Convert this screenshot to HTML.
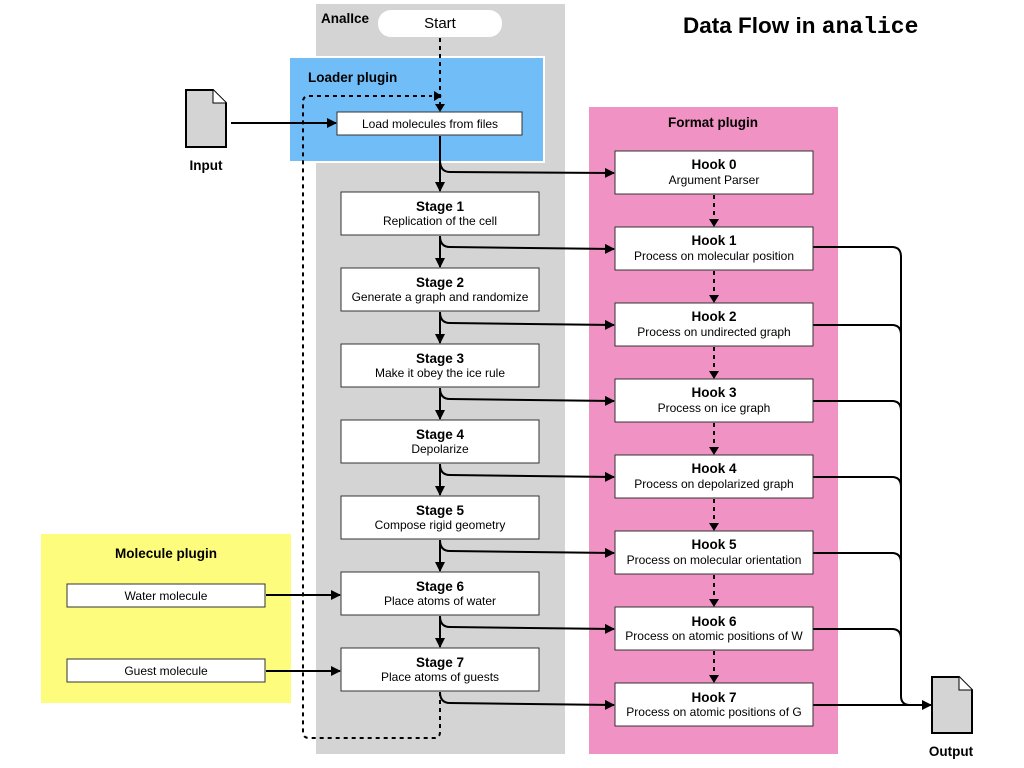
<!DOCTYPE html>
<html><head><meta charset="utf-8"><style>
html,body{margin:0;padding:0;background:#fff;}
svg{display:block;font-family:"Liberation Sans",sans-serif;}
.b{font-weight:bold;font-size:13.5px;}
.s{font-size:12px;}
</style></head><body>
<svg width="1024" height="768" viewBox="0 0 1024 768" xmlns="http://www.w3.org/2000/svg">
<defs>
<marker id="a" markerWidth="10" markerHeight="10" refX="9" refY="5" orient="auto" markerUnits="userSpaceOnUse"><path d="M0,0 L10,5 L0,10 z" fill="#000"/></marker>
</defs>
<rect x="316" y="4" width="249" height="750" fill="#d4d4d4"/>
<rect x="589" y="107" width="249" height="647" fill="#f092c4"/>
<rect x="41" y="534" width="250" height="169" fill="#fefc7d"/>
<rect x="289" y="57" width="255" height="105" fill="#71bdf7" stroke="#fff" stroke-width="2"/>
<text x="321" y="23" class="b" font-size="13">AnalIce</text>
<text x="308" y="82" class="b">Loader plugin</text>
<text x="713" y="127" class="b" text-anchor="middle">Format plugin</text>
<text x="166" y="558" class="b" text-anchor="middle">Molecule plugin</text>
<text x="683" y="33" font-weight="bold" font-size="22.5">Data Flow in <tspan font-family="Liberation Mono,monospace" font-size="23">analice</tspan></text>
<rect x="378" y="10" width="124" height="27" rx="13" fill="#fff"/>
<text x="440" y="28" font-size="15" text-anchor="middle">Start</text>
<path d="M186,90 L213,90 L226,103 L226,147 L186,147 Z" fill="#d4d4d4" stroke="#000" stroke-width="2"/>
<path d="M213,90 L213,103 L226,103" fill="#fff" stroke="#000" stroke-width="1"/>
<text x="206" y="170" class="b" text-anchor="middle">Input</text>
<path d="M932,677 L959,677 L972,690 L972,733 L932,733 Z" fill="#d4d4d4" stroke="#000" stroke-width="2"/>
<path d="M959,677 L959,690 L972,690" fill="#fff" stroke="#000" stroke-width="1"/>
<text x="951" y="756" class="b" text-anchor="middle">Output</text>
<g fill="none" stroke="#000" stroke-width="2" stroke-dasharray="4,4">
<path d="M440,38 L440,104"/>
<path d="M440,692 L440,732 Q440,738 434,738 L309,738 Q303,738 303,732 L303,102 Q303,96 309,96 L432,96"/>
<path d="M714,195 L714,220"/><path d="M714,271 L714,296"/><path d="M714,347 L714,372"/><path d="M714,423 L714,448"/><path d="M714,499 L714,524"/><path d="M714,575 L714,600"/><path d="M714,651 L714,676"/>
</g>
<g fill="#000">
<path d="M434,91 L442,96 L434,101 z"/><path d="M435,104 L440,112 L445,104 z"/>
<path d="M709,219 L714,227 L719,219 z"/><path d="M709,295 L714,303 L719,295 z"/><path d="M709,371 L714,379 L719,371 z"/><path d="M709,447 L714,455 L719,447 z"/><path d="M709,523 L714,531 L719,523 z"/><path d="M709,599 L714,607 L719,599 z"/><path d="M709,675 L714,683 L719,675 z"/>
</g>
<g fill="none" stroke="#000" stroke-width="2">
<path d="M231,123 L336,123" marker-end="url(#a)"/>
<path d="M266,595 L340,595" marker-end="url(#a)"/>
<path d="M266,671 L340,671" marker-end="url(#a)"/>
<path d="M440,136 L440,191" marker-end="url(#a)"/>
<path d="M440,236 L440,267" marker-end="url(#a)"/>
<path d="M440,312 L440,343" marker-end="url(#a)"/>
<path d="M440,388 L440,419" marker-end="url(#a)"/>
<path d="M440,464 L440,495" marker-end="url(#a)"/>
<path d="M440,540 L440,571" marker-end="url(#a)"/>
<path d="M440,616 L440,647" marker-end="url(#a)"/>
<path d="M440,160 Q440,172 450,172 L614,173" marker-end="url(#a)"/>
<path d="M440,236 Q440,247 450,247 L614,249" marker-end="url(#a)"/>
<path d="M440,312 Q440,323 450,323 L614,325" marker-end="url(#a)"/>
<path d="M440,388 Q440,399 450,399 L614,401" marker-end="url(#a)"/>
<path d="M440,464 Q440,475 450,475 L614,477" marker-end="url(#a)"/>
<path d="M440,540 Q440,551 450,551 L614,553" marker-end="url(#a)"/>
<path d="M440,616 Q440,627 450,627 L614,629" marker-end="url(#a)"/>
<path d="M440,692 Q440,703 450,703 L614,705" marker-end="url(#a)"/>
<path d="M813,247 L892,247 Q901,247 901,257 L901,696 Q901,705 910,705 L931,705" marker-end="url(#a)"/>
<path d="M813,325 L892,325 Q901,325 901,335"/>
<path d="M813,401 L892,401 Q901,401 901,411"/>
<path d="M813,477 L892,477 Q901,477 901,487"/>
<path d="M813,553 L892,553 Q901,553 901,563"/>
<path d="M813,629 L892,629 Q901,629 901,639"/>
<path d="M813,705 L931,705"/>
</g>
<g fill="#fff" stroke="#333" stroke-width="1">
<rect x="337" y="112" width="185" height="23"/>
<rect x="67" y="584" width="198" height="23"/>
<rect x="67" y="659" width="198" height="23"/>
<rect x="341" y="192" width="198" height="43"/><rect x="341" y="268" width="198" height="43"/><rect x="341" y="344" width="198" height="43"/><rect x="341" y="420" width="198" height="43"/><rect x="341" y="496" width="198" height="43"/><rect x="341" y="572" width="198" height="43"/><rect x="341" y="648" width="198" height="43"/>
<rect x="615" y="151" width="198" height="43"/><rect x="615" y="227" width="198" height="43"/><rect x="615" y="303" width="198" height="43"/><rect x="615" y="379" width="198" height="43"/><rect x="615" y="455" width="198" height="43"/><rect x="615" y="531" width="198" height="43"/><rect x="615" y="607" width="198" height="43"/><rect x="615" y="683" width="198" height="43"/>
</g>
<g text-anchor="middle">
<text x="430" y="128" class="s">Load molecules from files</text>
<text x="166" y="600" class="s">Water molecule</text>
<text x="166" y="675" class="s">Guest molecule</text>
<text x="440" y="211" class="b">Stage 1</text><text x="440" y="225" class="s">Replication of the cell</text>
<text x="440" y="287" class="b">Stage 2</text><text x="440" y="301" class="s">Generate a graph and randomize</text>
<text x="440" y="363" class="b">Stage 3</text><text x="440" y="377" class="s">Make it obey the ice rule</text>
<text x="440" y="439" class="b">Stage 4</text><text x="440" y="453" class="s">Depolarize</text>
<text x="440" y="515" class="b">Stage 5</text><text x="440" y="529" class="s">Compose rigid geometry</text>
<text x="440" y="591" class="b">Stage 6</text><text x="440" y="605" class="s">Place atoms of water</text>
<text x="440" y="667" class="b">Stage 7</text><text x="440" y="681" class="s">Place atoms of guests</text>
<text x="714" y="169" class="b">Hook 0</text><text x="714" y="184" class="s">Argument Parser</text>
<text x="714" y="245" class="b">Hook 1</text><text x="714" y="260" class="s">Process on molecular position</text>
<text x="714" y="321" class="b">Hook 2</text><text x="714" y="336" class="s">Process on undirected graph</text>
<text x="714" y="397" class="b">Hook 3</text><text x="714" y="412" class="s">Process on ice graph</text>
<text x="714" y="473" class="b">Hook 4</text><text x="714" y="488" class="s">Process on depolarized graph</text>
<text x="714" y="549" class="b">Hook 5</text><text x="714" y="564" class="s">Process on molecular orientation</text>
<text x="714" y="626" class="b">Hook 6</text><text x="714" y="640" class="s">Process on atomic positions of W</text>
<text x="714" y="702" class="b">Hook 7</text><text x="714" y="716" class="s">Process on atomic positions of G</text>
</g>
</svg>
</body></html>
